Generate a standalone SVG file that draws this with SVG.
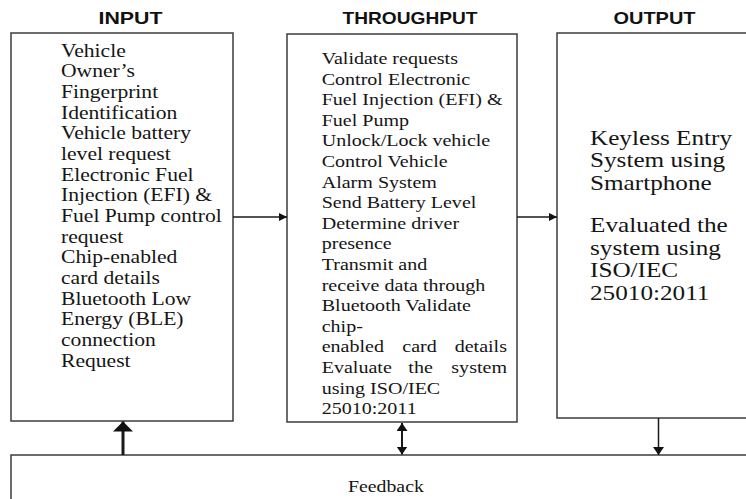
<svg xmlns="http://www.w3.org/2000/svg" width="746" height="499" viewBox="0 0 746 499">
<defs>
<style>
.box{fill:#fff;stroke:#3c3c3c;stroke-width:1.5}
.hdr{font-family:"Liberation Sans",Arial,sans-serif;font-weight:bold;font-size:16.5px;fill:#111}
.t{font-family:"Liberation Serif","Times New Roman",serif;fill:#151515}
.in{font-size:18px}
.th{font-size:16.7px}
.out{font-size:21px}
.fb{font-size:16.5px}
.con{stroke:#1a1a1a;fill:none}
</style>
<marker id="ah" markerUnits="userSpaceOnUse" markerWidth="9" markerHeight="9" refX="8" refY="4" orient="auto-start-reverse">
<path d="M0,0 L8,4 L0,8 z" fill="#111"/>
</marker>
<marker id="ahm" markerUnits="userSpaceOnUse" markerWidth="12" markerHeight="12" refX="8" refY="5.5" orient="auto-start-reverse">
<path d="M0,0 L8,5.5 L0,11 z" fill="#111"/>
</marker>
<marker id="ahb" markerUnits="userSpaceOnUse" markerWidth="12" markerHeight="22" refX="10" refY="10" orient="auto-start-reverse">
<path d="M0,0 L10,10 L0,20 z" fill="#111"/>
</marker>
</defs>
<rect width="746" height="499" fill="#fff"/>

<g id="headers">
<text class="hdr" x="130.5" y="24" text-anchor="middle" textLength="64" lengthAdjust="spacingAndGlyphs">INPUT</text>
<text class="hdr" x="410" y="24" text-anchor="middle" textLength="135" lengthAdjust="spacingAndGlyphs">THROUGHPUT</text>
<text class="hdr" x="654.5" y="24" text-anchor="middle" textLength="82" lengthAdjust="spacingAndGlyphs">OUTPUT</text>
</g>

<g id="input">
<rect class="box" x="11" y="33" width="222" height="388"/>
<text class="t in" transform="translate(61 0) scale(1.2 1)">
<tspan x="0" y="56.7">Vehicle</tspan>
<tspan x="0" y="77.4">Owner’s</tspan>
<tspan x="0" y="98">Fingerprint</tspan>
<tspan x="0" y="118.7">Identification</tspan>
<tspan x="0" y="139.4">Vehicle battery</tspan>
<tspan x="0" y="160">level request</tspan>
<tspan x="0" y="180.7">Electronic Fuel</tspan>
<tspan x="0" y="201.4">Injection (EFI) &amp;</tspan>
<tspan x="0" y="222">Fuel Pump control</tspan>
<tspan x="0" y="242.7">request</tspan>
<tspan x="0" y="263.4">Chip-enabled</tspan>
<tspan x="0" y="284">card details</tspan>
<tspan x="0" y="304.7">Bluetooth Low</tspan>
<tspan x="0" y="325.4">Energy (BLE)</tspan>
<tspan x="0" y="346">connection</tspan>
<tspan x="0" y="366.7">Request</tspan>
</text>
</g>

<g id="throughput">
<rect class="box" x="287" y="34" width="230" height="388"/>
<text class="t th" transform="translate(321.7 0) scale(1.2 1)">
<tspan x="0" y="64">Validate requests</tspan>
<tspan x="0" y="84.6">Control Electronic</tspan>
<tspan x="0" y="105.2">Fuel Injection (EFI) &amp;</tspan>
<tspan x="0" y="125.8">Fuel Pump</tspan>
<tspan x="0" y="146.4">Unlock/Lock vehicle</tspan>
<tspan x="0" y="167">Control Vehicle</tspan>
<tspan x="0" y="187.6">Alarm System</tspan>
<tspan x="0" y="208.2">Send Battery Level</tspan>
<tspan x="0" y="228.8">Determine driver</tspan>
<tspan x="0" y="249.4">presence</tspan>
<tspan x="0" y="270">Transmit and</tspan>
<tspan x="0" y="290.6">receive data through</tspan>
<tspan x="0" y="311.2">Bluetooth Validate</tspan>
<tspan x="0" y="331.8">chip-</tspan>
</text>
<text class="t th" transform="translate(321.7 0) scale(1.2 1)" y="352.4"><tspan x="0">enabled</tspan> <tspan x="67.2">card</tspan></text>
<text class="t th" transform="translate(321.7 0) scale(1.2 1)" x="154.4" y="352.4" text-anchor="end">details</text>
<text class="t th" transform="translate(321.7 0) scale(1.2 1)" y="373"><tspan x="0">Evaluate</tspan> <tspan x="72.2">the</tspan></text>
<text class="t th" transform="translate(321.7 0) scale(1.2 1)" x="154.4" y="373" text-anchor="end">system</text>
<text class="t th" transform="translate(321.7 0) scale(1.2 1)">
<tspan x="0" y="393.6">using ISO/IEC</tspan>
<tspan x="0" y="414.2">25010:2011</tspan>
</text>
</g>

<g id="output">
<rect class="box" x="557" y="33" width="200" height="385"/>
<text class="t out" transform="translate(590 0) scale(1.2 1)">
<tspan x="0" y="145">Keyless Entry</tspan>
<tspan x="0" y="167.5">System using</tspan>
<tspan x="0" y="190">Smartphone</tspan>
<tspan x="0" y="232.5">Evaluated the</tspan>
<tspan x="0" y="255">system using</tspan>
<tspan x="0" y="277.5">ISO/IEC</tspan>
<tspan x="0" y="300">25010:2011</tspan>
</text>
</g>

<g id="feedback">
<rect class="box" x="11" y="455" width="750" height="60"/>
<text class="t fb" transform="translate(348 0) scale(1.2 1)" x="0" y="492.5">Feedback</text>
</g>

<g id="connectors">
<line class="con" x1="233" y1="217" x2="287" y2="217" stroke-width="1.5" marker-end="url(#ah)"/>
<line class="con" x1="517" y1="217" x2="557" y2="217" stroke-width="1.5" marker-end="url(#ah)"/>
<line class="con" x1="123" y1="455" x2="123" y2="421.5" stroke-width="3" marker-end="url(#ahb)"/>
<line class="con" x1="402" y1="423" x2="402" y2="454.5" stroke-width="2" marker-start="url(#ahm)" marker-end="url(#ahm)"/>
<line class="con" x1="658.5" y1="418" x2="658.5" y2="455" stroke-width="1.5" marker-end="url(#ahm)"/>
</g>
</svg>
